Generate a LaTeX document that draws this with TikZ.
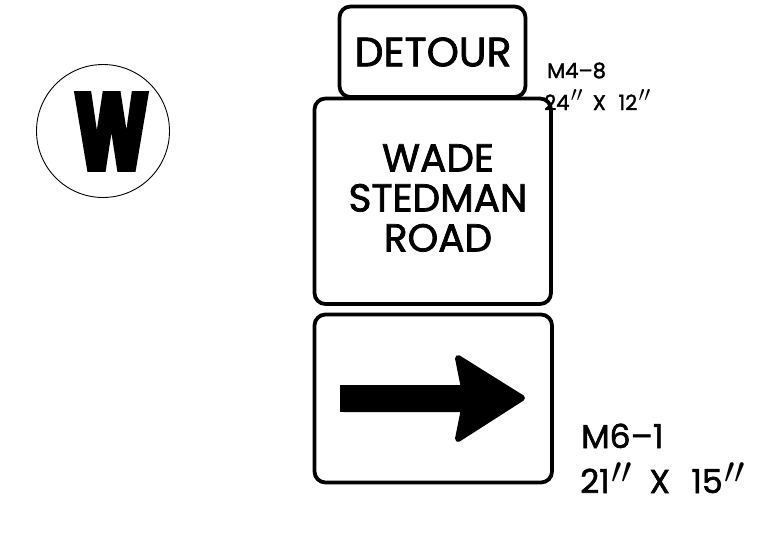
\documentclass[tikz,border=0pt]{standalone}
\usepackage{fontspec}
\usepackage{graphicx}
\setmainfont{Poppins}[FakeBold=1.8]
\newfontfamily\heavyfont{Liberation Sans Bold}[FakeBold=9]
\tikzset{
  signbox/.style={draw=black,line width=3.8pt,rounded corners=11pt,fill=white},
  signtext/.style={inner sep=0pt,align=center,font=\fontsize{39}{40}\selectfont},
  dimtext/.style={inner sep=0pt,anchor=base west}
}
\newcommand{\dimprime}{\hspace{.06em}\smash{\raisebox{-.13em}{\scalebox{1.5}{$''$}}}}
\begin{document}
\begin{tikzpicture}[x=1pt,y=-1pt]
\useasboundingbox (0,0) rectangle (784,550);
\fill[white] (0,0) rectangle (784,550);
\draw[signbox] (339.5,6.5) rectangle (525.5,97);
\draw[signbox] (314.5,98.5) rectangle (551,304);
\draw[signbox] (314.5,314.5) rectangle (552,482.5);
\node[signtext,font=\fontsize{41}{41}\selectfont] (detour) at (433,52) {DETOUR};
\node[signtext] (wade) at (438,198) {WADE\\STEDMAN\\ROAD};
\draw[black,line width=0.9pt] (103,131) circle (66.5);
\begin{scope}
\clip (60,91) rectangle (160,171);
\node[inner sep=0pt] (w) at (111.5,131) {\resizebox{68pt}{76pt}{\heavyfont W}};
\end{scope}
\fill[black,line join=round,draw=black,line width=6pt]
  (343,388) -- (464,388) -- (458,358) -- (522,398) -- (458,439) -- (464,409) -- (343,409) -- cycle;
\fill[black] (340,385) rectangle (470,412);
\node[dimtext,font=\fontsize{21}{22}\selectfont] (m4) at (547,78) {M4–8};
\node[dimtext,font=\fontsize{21}{22}\selectfont] (s4) at (544,110) {24\dimprime\hspace{.45em}X\hspace{.6em}12\dimprime};
\node[dimtext,font=\fontsize{33}{36}\selectfont] (m6) at (581,448) {M6–1};
\node[dimtext,font=\fontsize{33}{36}\selectfont] (s6) at (580,493) {21\dimprime\hspace{.5em}X\hspace{.65em}15\dimprime};
\end{tikzpicture}
\end{document}
